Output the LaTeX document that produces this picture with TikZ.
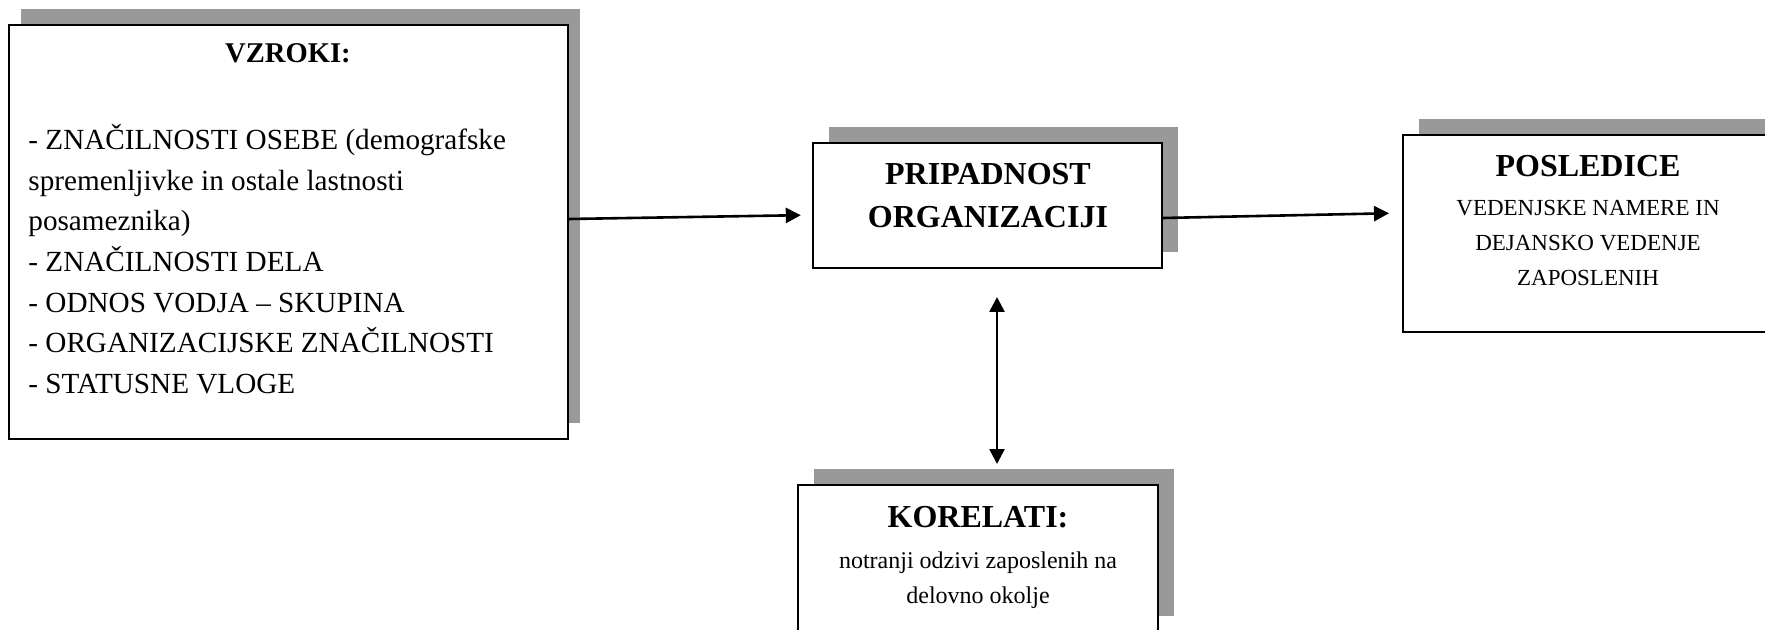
\documentclass[tikz,border=0pt]{standalone}
\usepackage{fontspec}
\setmainfont{Liberation Serif}
\usetikzlibrary{positioning,fit,shadows,arrows.meta}
\definecolor{shadowgray}{RGB}{153,153,153}

\begin{document}
\begin{tikzpicture}[x=0.5pt, y=-0.5pt,
    box/.style={draw, line width=1pt, fill=white, inner sep=0pt,
        drop shadow={shadow xshift=#1, shadow yshift=8pt, fill=shadowgray, opacity=1}},
    box/.default=8pt,
    head/.style={font=\fontsize{16}{21.5}\selectfont\bfseries, align=center, inner sep=0pt},
    small/.style={font=\fontsize{11.5}{17.5}\selectfont, align=center, inner sep=0pt},
    link/.style={line width=1.3pt, -{Triangle[length=7.5pt, width=7.5pt]}},
    both/.style={line width=1.3pt, {Triangle[length=7.5pt, width=7.5pt]}-{Triangle[length=7.5pt, width=7.5pt]}}]

    \useasboundingbox (0,0) rectangle (1765,630);

    % The boxes
    \node[box=6pt, fit={(9,25) (568,439)}] (vzroki) {};
    \node[box, fit={(813,143) (1162,268)}] (pripadnost) {};
    \node[box, fit={(1403,135) (1773,332)}] (posledice) {};
    \node[box, fit={(798,485) (1158,632)}] (korelati) {};

    % Causes
    \node[head, font=\fontsize{14.3}{20}\selectfont\bfseries, anchor=base] (vzrokiT) at (288,63) {VZROKI:};
    \node[font=\fontsize{14.6}{20.35}\selectfont, align=left, inner sep=0pt, anchor=north west] (vzrokiL) at (28,124)
        {- ZNAČILNOSTI OSEBE (demografske\\spremenljivke in ostale lastnosti\\posameznika)\\- ZNAČILNOSTI DELA\\- ODNOS VODJA – SKUPINA\\- ORGANIZACIJSKE ZNAČILNOSTI\\- STATUSNE VLOGE};

    % Commitment
    \node[head, anchor=north] (pripadnostT) at (988,163) {PRIPADNOST\\ORGANIZACIJI};

    % Consequences
    \node[head, anchor=base] (poslediceT) at (1588,177) {POSLEDICE};
    \node[small, anchor=north] (poslediceL) at (1588,200) {VEDENJSKE NAMERE IN\\DEJANSKO VEDENJE\\ZAPOSLENIH};

    % Correlates
    \node[head, anchor=base] (korelatiT) at (978,527) {KORELATI:};
    \node[small, font=\fontsize{12}{17.5}\selectfont, anchor=north] (korelatiL) at (978,551) {notranji odzivi zaposlenih na\\delovno okolje};

    % Arrows
    \draw[link, shorten >=5.6pt] (vzroki.east |- 0,219) -- (pripadnost.west |- 0,215);
    \draw[link, shorten >=6.5pt] (pripadnost.east |- 0,218) -- (posledice.west |- 0,213);
    \draw[both, shorten <=14pt, shorten >=10pt] (pripadnost.south -| 997,0) -- (korelati.north -| 997,0);
\end{tikzpicture}
\end{document}
